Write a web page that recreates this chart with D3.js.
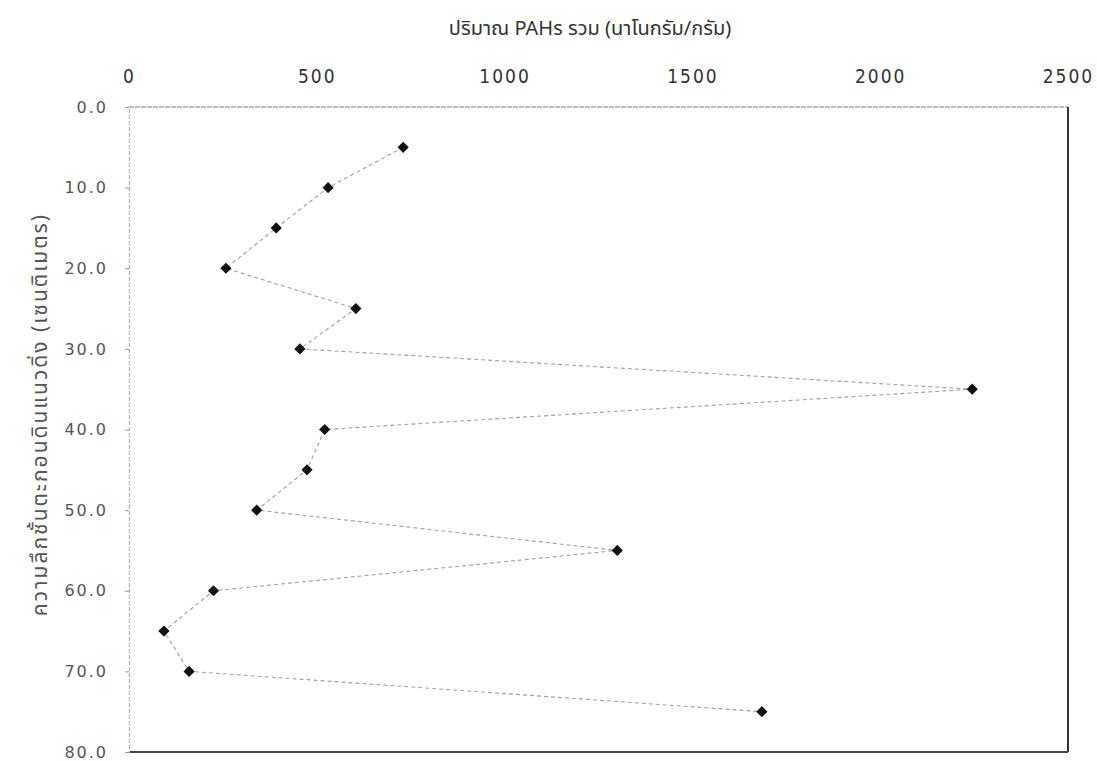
<!DOCTYPE html>
<html>
<head>
<meta charset="utf-8">
<script src="https://cdn.jsdelivr.net/npm/d3@7"></script>
<style>
  body { margin: 0; background: #fff; }
  svg { display: block; }
</style>
</head>
<body>
<svg id="chart"></svg>
<script>
// depth (cm) and total PAHs (ng/g)
const depths = [5, 10, 15, 20, 25, 30, 35, 40, 45, 50, 55, 60, 65, 70, 75];
const pahs = [730, 530, 392, 258, 604, 455, 2245, 521, 474, 340, 1300, 225, 93, 160, 1685];
const xTicks = [0, 500, 1000, 1500, 2000, 2500];
const yTicks = [0, 10, 20, 30, 40, 50, 60, 70, 80];
const xTitle = "ปริมาณ PAHs รวม (นาโนกรัม/กรัม)";
const yTitle = "ความลึกชั้นตะกอนดินแนวดิ่ง (เซนติเมตร)";

const width = 1097;
const height = 761;
const margin = {left: 129, right: 29, top: 107, bottom: 9};

var points = depths.map((d, i) => { return {depth: d, value: pahs[i]} });

var x = d3.scaleLinear()
  .domain([0, 2500])
  .range([margin.left, width - margin.right]);

var y = d3.scaleLinear()
  .domain([0, 80])
  .range([margin.top, height - margin.bottom]);

var svg = d3.select('#chart')
  .attr('width', width)
  .attr('height', height);

// frame: light dotted top/left, dark right/bottom
svg.append('line')
  .attr('x1', x(0)).attr('x2', x(2500))
  .attr('y1', y(0)).attr('y2', y(0))
  .attr('stroke', '#a8a8a8')
  .attr('stroke-width', 1.3)
  .attr('stroke-dasharray', '5,1');

svg.append('line')
  .attr('x1', x(2500)).attr('x2', x(2500))
  .attr('y1', y(0)).attr('y2', y(80))
  .attr('stroke', '#333')
  .attr('stroke-width', 2);

svg.append('line')
  .attr('x1', x(0)).attr('x2', x(2500))
  .attr('y1', y(80)).attr('y2', y(80))
  .attr('stroke', '#444')
  .attr('stroke-width', 2);

// top axis
var xAxis = d3.axisTop(x)
  .tickValues(xTicks)
  .tickSize(0)
  .tickPadding(24)
  .tickFormat(d3.format('d'));

var gx = svg.append('g')
  .attr('transform', `translate(0,${y(0)})`)
  .call(xAxis);
gx.select('.domain').remove();
gx.selectAll('text')
  .attr('font-family', '"DejaVu Sans Condensed", "DejaVu Sans", sans-serif')
  .attr('font-stretch', 'condensed')
  .attr('font-size', 19)
  .attr('letter-spacing', 2)
  .attr('fill', '#333');

// left axis
var yAxis = d3.axisLeft(y)
  .tickValues(yTicks)
  .tickSize(4)
  .tickPadding(17)
  .tickFormat(d3.format('.1f'));

var gy = svg.append('g')
  .attr('transform', `translate(${x(0)},0)`)
  .call(yAxis);
gy.select('.domain')
  .attr('stroke', '#b0b0b0')
  .attr('stroke-width', 1.2)
  .attr('stroke-dasharray', '4,2');
gy.selectAll('line').attr('stroke', '#999');
gy.selectAll('text')
  .attr('font-family', '"DejaVu Sans", sans-serif')
  .attr('font-size', 16)
  .attr('letter-spacing', 2)
  .attr('fill', '#555');

// titles
svg.append('text')
  .attr('x', 590)
  .attr('y', 35)
  .attr('text-anchor', 'middle')
  .attr('font-family', '"Noto Sans Thai", "Noto Sans", sans-serif')
  .attr('font-size', 20)
  .attr('fill', '#333')
  .text(xTitle);

svg.append('text')
  .attr('transform', `translate(47,${(y(0) + y(80)) / 2 - 15}) rotate(-90)`)
  .attr('text-anchor', 'middle')
  .attr('font-family', '"Noto Sans Thai", "Noto Sans", sans-serif')
  .attr('font-size', 21)
  .attr('letter-spacing', 2)
  .attr('fill', '#555')
  .text(yTitle);

// dashed connecting line
var line = d3.line()
  .x(d => x(d.value))
  .y(d => y(d.depth));

svg.append('path')
  .datum(points)
  .attr('fill', 'none')
  .attr('stroke', '#a0a0a0')
  .attr('stroke-width', 1.1)
  .attr('stroke-dasharray', '4,3')
  .attr('d', line);

// diamond markers
svg.selectAll('.pt')
  .data(points)
  .enter().append('path')
  .attr('class', 'pt')
  .attr('transform', d => `translate(${x(d.value)},${y(d.depth)})`)
  .attr('d', d3.symbol().type(d3.symbolDiamond2).size(80))
  .attr('fill', '#111');
</script>
</body>
</html>
